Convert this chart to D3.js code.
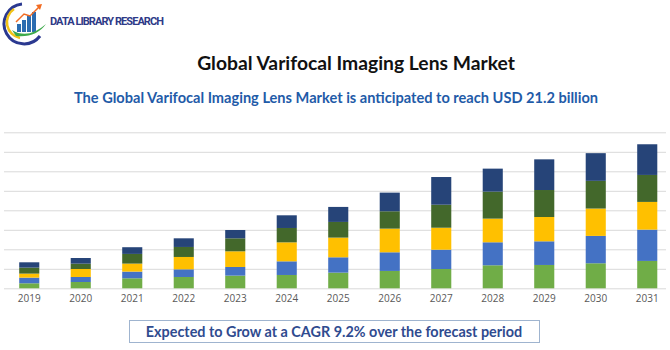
<!DOCTYPE html>
<html>
<head>
<meta charset="utf-8">
<script src="https://cdn.jsdelivr.net/npm/d3@7/dist/d3.min.js"></script>
<style>
  body { margin: 0; background: #fff; }
  svg { display: block; }
</style>
</head>
<body>
<div id="chart"></div>
<script>
// Data (USD billion)
const years = ["2019","2020","2021","2022","2023","2024","2025","2026","2027","2028","2029","2030","2031"];
const seriesNames = ["s1", "s2", "s3", "s4", "s5"];
const s1 = [0.77, 0.97, 1.54, 1.74, 1.95, 2.05, 2.41, 2.67, 2.97, 3.54, 3.59, 3.85, 4.21];
const s2 = [0.87, 0.77, 1.03, 1.18, 1.33, 2.10, 2.36, 2.87, 2.97, 3.54, 3.64, 4.21, 4.82];
const s3 = [0.62, 1.23, 1.23, 1.90, 2.41, 2.92, 3.03, 3.64, 3.38, 3.64, 3.74, 4.21, 4.26];
const s4 = [0.92, 0.82, 1.49, 1.54, 2.00, 2.21, 2.41, 2.67, 3.54, 4.15, 4.15, 4.26, 4.15];
const s5 = [0.82, 0.87, 1.03, 1.33, 1.28, 1.95, 2.31, 2.87, 4.26, 3.54, 4.72, 4.26, 4.72];
const colors = ["#70AD47", "#4472C4", "#FFC000", "#43682B", "#264478"];
const gridTicks = [0, 3, 6, 9, 12, 15, 18, 21, 24];

const width = 670, height = 350;
const svg = d3.select("#chart").append("svg")
  .attr("width", width)
  .attr("height", height);

// Logo
const logo = svg.append("g");
logo.append("path")
  .attr("d", "M22,4 A20,20 0 1,0 40,36")
  .attr("fill", "none").attr("stroke", "#2B3990").attr("stroke-width", 3);
logo.append("path")
  .attr("d", "M14,9 A16,16 0 0,0 20,38")
  .attr("fill", "none").attr("stroke", "#F2C318").attr("stroke-width", 2.5);
[[17, 24, 4, 8], [22, 20, 4, 12], [27, 15, 4, 17], [32, 12, 4, 20]].forEach(b => {
  logo.append("rect").attr("x", b[0]).attr("y", b[1]).attr("width", b[2]).attr("height", b[3]).attr("fill", "#2B6CB0");
});
logo.append("path")
  .attr("d", "M12,30 Q28,40 46,24 Q36,38 16,36 Z")
  .attr("fill", "#3DAA4A");
logo.append("path")
  .attr("d", "M16,22 L24,14 L30,16 L40,6")
  .attr("fill", "none").attr("stroke", "#F26B21").attr("stroke-width", 1.5);
logo.append("path")
  .attr("d", "M36,5 L42,4 L40,10 Z").attr("fill", "#F26B21");
svg.append("text")
  .attr("x", 50).attr("y", 25)
  .attr("font-family", "'Roboto', 'Liberation Sans', sans-serif")
  .attr("font-weight", "bold")
  .attr("font-size", "11px")
  .attr("fill", "#2E3A87")
  .attr("textLength", 114)
  .text("DATA LIBRARY RESEARCH");

// Titles
svg.append("text")
  .attr("x", 356).attr("y", 70)
  .attr("text-anchor", "middle")
  .attr("font-family", "Lato, 'Open Sans', sans-serif")
  .attr("font-weight", "bold")
  .attr("font-size", "19.3px")
  .attr("fill", "#111")
  .text("Global Varifocal Imaging Lens Market");

svg.append("text")
  .attr("x", 336).attr("y", 103)
  .attr("text-anchor", "middle")
  .attr("font-family", "Lato, 'Open Sans', sans-serif")
  .attr("font-weight", "bold")
  .attr("font-size", "14.6px")
  .attr("fill", "#1F5BA8")
  .text("The Global Varifocal Imaging Lens Market is anticipated to reach USD 21.2 billion");

// Scales
const margin = { top: 132.3, bottom: 288.3, left: 3.5, right: 673 };
const x = d3.scaleBand()
  .domain(years)
  .range([margin.left, margin.right])
  .paddingInner(0.61)
  .paddingOuter(0.305);

const y = d3.scaleLinear()
  .domain([0, 24])
  .range([margin.bottom, margin.top]);

// Gridlines
svg.append("g")
  .attr("transform", "translate(4,0)")
  .call(d3.axisLeft(y).tickValues(gridTicks).tickSize(-662).tickFormat(""))
  .call(g => g.select(".domain").remove())
  .selectAll("line")
  .attr("stroke", "#D9D9D9")
  .attr("stroke-width", 1);

// Stacked bars
const table = years.map((yr, i) => ({ year: yr, s1: s1[i], s2: s2[i], s3: s3[i], s4: s4[i], s5: s5[i] }));
const stacked = d3.stack().keys(seriesNames)(table);

svg.append("g")
  .selectAll("g")
  .data(stacked)
  .join("g")
  .attr("fill", (d, i) => colors[i])
  .selectAll("rect")
  .data(d => d)
  .join("rect")
  .attr("x", d => x(d.data.year))
  .attr("y", d => y(d[1]))
  .attr("width", x.bandwidth())
  .attr("height", d => y(d[0]) - y(d[1]));

// X axis labels
svg.append("g")
  .attr("transform", `translate(0,${margin.bottom})`)
  .call(d3.axisBottom(x).tickSize(0).tickPadding(7))
  .call(g => g.select(".domain").remove())
  .selectAll("text")
  .attr("font-family", "'Open Sans', 'Liberation Sans', sans-serif")
  .attr("font-size", "10px")
  .attr("fill", "#595959");

// CAGR box
svg.append("rect")
  .attr("x", 129.5).attr("y", 320.5)
  .attr("width", 410).attr("height", 22)
  .attr("fill", "#fff")
  .attr("stroke", "#9FB4CF")
  .attr("stroke-width", 1);

svg.append("text")
  .attr("x", 334).attr("y", 336.5)
  .attr("text-anchor", "middle")
  .attr("font-family", "Lato, 'Open Sans', sans-serif")
  .attr("font-weight", "bold")
  .attr("font-size", "14.4px")
  .attr("fill", "#2F4B8F")
  .text("Expected to Grow at a CAGR  9.2% over the forecast period");
</script>
</body>
</html>
